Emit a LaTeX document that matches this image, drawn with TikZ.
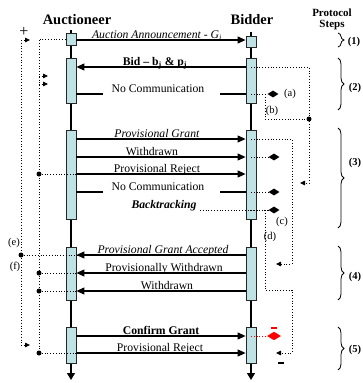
\documentclass[tikz,border=0pt]{standalone}
\usepackage{fontspec}
\setmainfont{Liberation Serif}
\usepackage{tikz}
\usetikzlibrary{shapes.geometric, arrows.meta, decorations.pathreplacing, calc}

\begin{document}
\begin{tikzpicture}[x=1pt, y=-1pt,
  actbox/.style={draw=black!85, fill=caixa, line width=0.8pt, minimum width=10pt, inner sep=0pt},
  msg/.style={line width=1.1pt, -{Triangle[length=8pt, width=7pt]}},
  plain/.style={line width=1.1pt},
  lbl/.style={font=\fontsize{11.7}{13}\selectfont, anchor=base, inner sep=0pt, yshift=1.5pt},
  dotline/.style={dotted, line width=0.8pt},
  ptr/.style={dotline, -{Triangle[length=5pt, width=4.5pt]}},
  dmd/.style={diamond, fill=black, inner sep=0pt, minimum width=11pt, minimum height=7pt},
  jdot/.style={circle, fill=black, inner sep=0pt, minimum size=5pt},
  tag/.style={font=\fontsize{10.5}{12}\selectfont, inner sep=0pt},
  stepbrace/.style={decorate, decoration={brace, amplitude=6pt}, line width=0.8pt},
  steplbl/.style={font=\bfseries\fontsize{10.5}{12}\selectfont, inner sep=0pt}
]
% --- SEQUENCE DIAGRAM: AUCTIONEER x BIDDER ---
\definecolor{caixa}{HTML}{BFE3E5}
\useasboundingbox (0,0) rectangle (362,383);

% LAYER 1: Titles
\node[font=\bfseries\fontsize{14.5}{16}\selectfont, anchor=base] (auc) at (77,24) {Auctioneer};
\node[font=\bfseries\fontsize{14.5}{16}\selectfont, anchor=base] (bid) at (252,24) {Bidder};
\node[font=\bfseries\fontsize{11}{12}\selectfont, anchor=base] (prot) at (332,16) {Protocol};
\node[font=\bfseries\fontsize{11}{12}\selectfont, anchor=base] (steps) at (332,27) {Steps};

% LAYER 2: Lifelines and activation boxes
\coordinate (aTop) at (71,30); \coordinate (aEnd) at (71,380);
\coordinate (bTop) at (251,32); \coordinate (bEnd) at (251,380);
\draw[line width=1.3pt, -{Triangle[length=7pt, width=8pt]}] (aTop) -- (aEnd);
\draw[line width=1.3pt, -{Triangle[length=7pt, width=8pt]}] (bTop) -- (bEnd);

\node[actbox, minimum height=12pt] (a1) at (71,39) {};
\node[actbox, minimum height=45pt] (a2) at (71,80.5) {};
\node[actbox, minimum height=89pt] (a3) at (71,174.5) {};
\node[actbox, minimum height=53pt] (a4) at (71,273.5) {};
\node[actbox, minimum height=36pt] (a5) at (71,345) {};
\node[actbox, minimum height=11pt] (b1) at (251,41.5) {};
\node[actbox, minimum height=45pt] (b2) at (251,80.5) {};
\node[actbox, minimum height=89pt] (b3) at (251,174.5) {};
\node[actbox, minimum height=53pt] (b4) at (251,273.5) {};
\node[actbox, minimum height=36pt] (b5) at (251,345) {};

% LAYER 3: Left dotted loops
\node[jdot] (je) at (21,255) {};
\node[jdot] (j2) at (39,174) {};
\node[jdot] (j3) at (39,273) {};
\node[jdot] (j4) at (39,291) {};
\node[jdot] (j5) at (39,353) {};
\coordinate (l1t) at (21,40); \coordinate (l1b) at (21,345);
\draw[dotline] (l1t) -- (l1b);
\draw[ptr] (l1t) -- ++(9,0);
\draw[ptr] (l1b) -- ++(9,0);
\draw[dotline] (a1.west) -| (j5);
\foreach \yy in {76,84}
  \draw[ptr] (39,\yy) -- ++(9,0);
\draw[dotline] (je) -- (a4.east |- je) -- ++(17,0);
\foreach \j/\b in {j2/a3, j3/a4, j4/a4, j5/a5}
  \draw[dotline] (\j) -- (\b.east |- \j) -- ++(17,0);
\node[font=\fontsize{16}{16}\selectfont, inner sep=0pt] (plus) at (24,32) {+};
\node[tag] (le) at (14,243) {(e)};
\node[tag] (lf) at (15,267) {(f)};

% LAYER 4: Right dotted loops and markers
\node[dmd] (d1) at (273,94) {};
\node[dmd] (d2) at (274,157) {};
\node[dmd] (d3) at (274,192) {};
\node[dmd] (d4) at (274,210) {};
\node[diamond, fill=red, inner sep=0pt, minimum width=14pt, minimum height=8.5pt] (dr) at (274,336) {};
\node[jdot] (jb) at (309,119) {};
\foreach \d/\b in {d1/b2, d2/b3, d3/b3, d4/b3}
  \draw[dotline] (\b.center |- \d) -- (\d);
\draw[dotline, red] (b5.center |- dr) -- (dr);
\coordinate (r1) at (309,67); \coordinate (r1e) at (300,183);
\draw[ptr] (b2.center |- r1) -- (r1) |- (r1e);
\coordinate (rb) at (265,94);
\draw[dotline] (rb) |- (jb);
\coordinate (r2) at (292,139); \coordinate (r2e) at (276,264);
\draw[ptr] (b3.center |- r2) -- (r2) |- (r2e);
\coordinate (r3) at (265,210); \coordinate (r3m) at (292,290); \coordinate (r3e) at (276,353);
\draw[ptr] (r3) |- (r3m) |- (r3e);
\node[tag] (ta) at (290,94) {(a)};
\node[tag] (tb) at (272,111) {(b)};
\node[tag] (tc) at (282,222) {(c)};
\node[tag] (td) at (270,237) {(d)};
\draw[red, line width=1.8pt] (271,328) -- (277,328); % red minus
\draw[line width=1.8pt] (278,363) -- (284,363); % minus

% LAYER 5: Messages
\draw[msg] (a1.east |- 0,40) -- (b1.west |- 0,40) node[lbl, midway, xshift=-4pt] {\textit{Auction Announcement - G\textsubscript{i}}};
\draw[msg] (b2.west |- 0,67) -- (a2.east |- 0,67) node[lbl, midway, xshift=-6pt] {\textbf{Bid – b\textsubscript{j} \& p\textsubscript{j}}};
\coordinate (nc1l) at (103,94); \coordinate (nc1r) at (220,94);
\draw[plain] (a2.east |- nc1l) -- (nc1l);
\draw[plain] (nc1r) -- (b2.west |- nc1r);
\node[lbl] (nc1) at (158,94) {No Communication};

\draw[msg] (a3.east |- 0,139) -- (b3.west |- 0,139) node[lbl, midway, xshift=-4pt] {\textit{Provisional Grant}};
\draw[msg] (a3.east |- 0,157) -- (b3.west |- 0,157) node[lbl, midway, xshift=-9pt] {Withdrawn};
\draw[msg] (a3.east |- 0,174) -- (b3.west |- 0,174) node[lbl, midway, xshift=-4pt] {Provisional Reject};
\coordinate (nc2l) at (103,192); \coordinate (nc2r) at (220,192);
\draw[plain] (a3.east |- nc2l) -- (nc2l);
\draw[plain] (nc2r) -- (b3.west |- nc2r);
\node[lbl] (nc2) at (158,192) {No Communication};
\node[lbl] (bt) at (164,210) {\textbf{\textit{Backtracking}}};
\coordinate (btend) at (200,210);
\draw[dotline] (btend) -- (d4);

\draw[msg] (b4.west |- 0,255) -- (a4.east |- 0,255) node[lbl, midway, xshift=2pt] {\textit{Provisional Grant Accepted}};
\draw[msg] (b4.west |- 0,273) -- (a4.east |- 0,273) node[lbl, midway, xshift=3pt] {Provisionally Withdrawn};
\draw[msg] (b4.west |- 0,291) -- (a4.east |- 0,291) node[lbl, midway, xshift=6pt] {Withdrawn};

\draw[msg] (a5.east |- 0,336) -- (b5.west |- 0,336) node[lbl, midway] {\textbf{Confirm Grant}};
\draw[msg] (a5.east |- 0,353) -- (b5.west |- 0,353) node[lbl, midway, xshift=-1pt] {Provisional Reject};

% LAYER 6: Protocol step braces
\draw[stepbrace] (338,33) -- (338,47);
\draw[stepbrace] (338,58) -- (338,110);
\draw[stepbrace] (338,128) -- (338,228);
\draw[stepbrace] (338,246) -- (338,300);
\draw[stepbrace] (338,327) -- (338,370);
\node[steplbl] (s1) at (354,42) {(1)};
\node[steplbl] (s2) at (355,88) {(2)};
\node[steplbl] (s3) at (355,163) {(3)};
\node[steplbl] (s4) at (355,277) {(4)};
\node[steplbl] (s5) at (355,350) {(5)};
\end{tikzpicture}
\end{document}
